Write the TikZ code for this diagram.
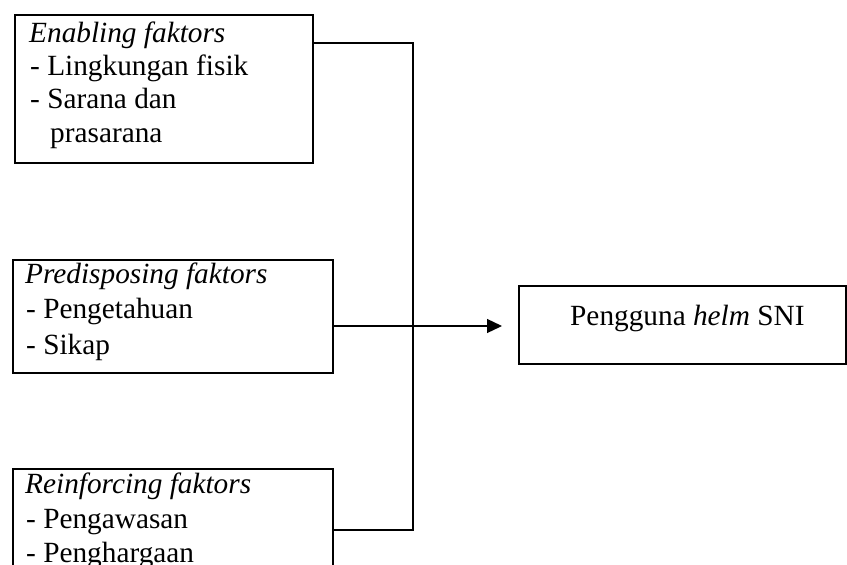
\documentclass[tikz,border=0pt]{standalone}
\usepackage{fontspec}
\setmainfont{Liberation Serif}
\usetikzlibrary{arrows.meta}
\begin{document}
\begin{tikzpicture}[x=1pt,y=-1pt,
  box/.style={draw,line width=1.5pt,rectangle,inner sep=0pt,anchor=north west},
  txt/.style={anchor=base west,inner sep=0pt,font=\fontsize{29.3}{34}\selectfont},
  conn/.style={line width=1.3pt}]
\useasboundingbox (0,0) rectangle (847,565);
\clip (0,0) rectangle (847,565);
% boxes
\node[box,minimum width=298pt,minimum height=148pt] (B1) at (14,14) {};
\node[box,minimum width=320pt,minimum height=113pt] (B2) at (12,259) {};
\node[box,minimum width=320pt,minimum height=140pt] (B3) at (12,468) {};
\node[box,minimum width=327pt,minimum height=78pt] (B4) at (518,285) {};
% texts
\node[txt] (t1a) at (29,42) {\textit{Enabling faktors}};
\node[txt] (t1b) at (30,75) {- Lingkungan fisik};
\node[txt] (t1c) at (30,108) {- Sarana dan};
\node[txt] (t1d) at (50,142) {prasarana};
\node[txt] (t2a) at (25,283) {\textit{Predisposing faktors}};
\node[txt] (t2b) at (26,318) {- Pengetahuan};
\node[txt] (t2c) at (26,354) {- Sikap};
\node[txt] (t3a) at (25,493) {\textit{Reinforcing faktors}};
\node[txt] (t3b) at (26,528) {- Pengawasan};
\node[txt] (t3c) at (26,562) {- Penghargaan};
\node[txt] (t4) at (570,325) {Pengguna \textit{helm} SNI};
% connectors
\coordinate (J1) at (413,43);
\coordinate (J2) at (413,530);
\coordinate (A) at (502,326);
\draw[conn] (B1.east |- J1) -- (J1) -- (J2) -- (B3.east |- J2);
\draw[conn,-{Triangle[length=15pt,width=14pt]}] (B2.east |- A) -- (A);
\end{tikzpicture}
\end{document}
